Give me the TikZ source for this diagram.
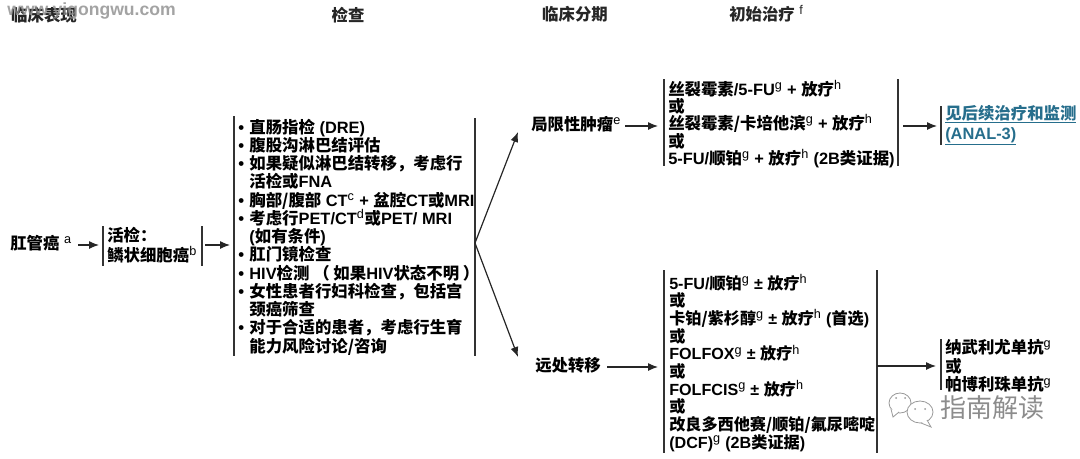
\documentclass[tikz,border=0pt]{standalone}
\usepackage{fontspec}
\setmainfont{Liberation Sans}
\newfontfamily\cjk{Noto Sans CJK SC}
\newcommand{\zh}[1]{{\cjk #1}}
\newcommand{\sps}[1]{\textsuperscript{\mdseries\fontsize{9.5pt}{9.5pt}\selectfont #1}}
\newcommand{\itm}{\makebox[7.6pt][l]{\hspace*{-0.6pt}\fontsize{12.5pt}{12.5pt}\selectfont\textbullet}}
\newcommand{\noitm}{\hspace*{7.6pt}}
\usetikzlibrary{arrows.meta}
\definecolor{linkblue}{RGB}{38,110,140}
\tikzset{
  lab/.style={inner sep=0pt,anchor=west,align=left,font=\bfseries\fontsize{12.3pt}{13.7pt}\selectfont},
  head/.style={inner sep=0pt,font=\bfseries\fontsize{12.3pt}{13.7pt}\selectfont,text=black!85},
  bar/.style={line width=1pt,black!80},
  arr/.style={-{Latex[length=7.5pt,width=6pt]},line width=0.9pt,black!85},
  wm/.style={line width=0.6pt,black!40,fill=white},
}
\begin{document}
\begin{tikzpicture}[x=0.75pt,y=-0.75pt]
  \useasboundingbox (0,0) rectangle (1080,458);
  % column titles
  \node[head] (hclin) at (44,15) {\zh{临床表现}};
  \node[head] (hexam) at (348,15) {\zh{检查}};
  \node[head] (hstage) at (575,14) {\zh{临床分期}};
  \node[head,anchor=west] (htreat) at (729,14) {\zh{初始治疗} \sps{f}};
  % site mark over the first title
  \node[inner sep=0pt,anchor=west,text=black!45,opacity=0.8,font=\bfseries\fontsize{13.2pt}{13.2pt}\selectfont] (wmsite) at (7,11) {www.yigongwu.com};
  % left part
  \node[lab] (anal) at (10,243) {\zh{肛管癌} \sps{a}};
  \node[lab,font=\bfseries\fontsize{12.3pt}{15pt}\selectfont] (biopsy) at (107,245) {\zh{活检：}\\\zh{鳞状细胞癌}\sps{b}};
  \coordinate (biopn) at (103,226);
  \coordinate (biops) at (103,266);
  \coordinate (biorn) at (202,226);
  \coordinate (biors) at (202,266);
  \draw[bar] (biopn) -- (biops);
  \draw[bar] (biorn) -- (biors);
  % work-up
  \node[lab] (exam) at (239,237) {%
    \itm\zh{直肠指检} (DRE)\\
    \itm\zh{腹股沟淋巴结评估}\\
    \itm\zh{如果疑似淋巴结转移，考虑行}\\
    \noitm\zh{活检或}FNA\\
    \itm\zh{胸部/腹部} CT\sps{c} + \zh{盆腔}CT\zh{或}MRI\\
    \itm\zh{考虑行}PET/CT\sps{d}\zh{或}PET/ MRI\\
    \noitm(\zh{如有条件})\\
    \itm\zh{肛门镜检查}\\
    \itm HIV\zh{检测 （ 如果}HIV\zh{状态不明 ）}\\
    \itm\zh{女性患者行妇科检查，包括宫}\\
    \noitm\zh{颈癌筛查}\\
    \itm\zh{对于合适的患者，考虑行生育}\\
    \noitm\zh{能力风险讨论/咨询}};
  \coordinate (examln) at (234,116);
  \coordinate (examls) at (234,356);
  \coordinate (examrn) at (475,118);
  \coordinate (examrs) at (475,356);
  \coordinate (fork) at (475,243);
  \draw[bar] (examln) -- (examls);
  \draw[bar] (examrn) -- (examrs);
  % stages
  \node[lab] (local) at (531,124) {\zh{局限性肿瘤}\sps{e}};
  \node[lab] (dist) at (535,365) {\zh{远处转移}};
  % treatment boxes
  \node[lab,font=\bfseries\fontsize{12.3pt}{12.75pt}\selectfont] (treata) at (668,124) {%
    \zh{丝裂霉素}/5-FU\sps{g} + \zh{放疗}\sps{h}\\
    \zh{或}\\
    \zh{丝裂霉素/卡培他滨}\sps{g} + \zh{放疗}\sps{h}\\
    \zh{或}\\
    5-FU/\zh{顺铂}\sps{g} + \zh{放疗}\sps{h} (2B\zh{类证据})};
  \coordinate (treatan) at (664,79);
  \coordinate (treatas) at (664,166);
  \coordinate (treatarn) at (898,79);
  \coordinate (treatars) at (898,166);
  \draw[bar] (treatan) -- (treatas);
  \draw[bar] (treatarn) -- (treatars);
  \node[lab,font=\bfseries\fontsize{12.1pt}{13.25pt}\selectfont] (treatb) at (669,363) {%
    5-FU/\zh{顺铂}\sps{g} ± \zh{放疗}\sps{h}\\
    \zh{或}\\
    \zh{卡铂/紫杉醇}\sps{g} ± \zh{放疗}\sps{h} (\zh{首选})\\
    \zh{或}\\
    FOLFOX\sps{g} ± \zh{放疗}\sps{h}\\
    \zh{或}\\
    FOLFCIS\sps{g} ± \zh{放疗}\sps{h}\\
    \zh{或}\\
    \zh{改良多西他赛/顺铂/氟尿嘧啶}\\
    (DCF)\sps{g} (2B\zh{类证据})};
  \coordinate (treatbn) at (664,270);
  \coordinate (treatbs) at (664,453);
  \coordinate (treatbrn) at (877,270);
  \coordinate (treatbrs) at (877,453);
  \draw[bar] (treatbn) -- (treatbs);
  \draw[bar] (treatbrn) -- (treatbrs);
  % follow-up
  \node[lab,text=linkblue,font=\bfseries\fontsize{12.3pt}{15pt}\selectfont] (follow) at (945,125) {\underline{\zh{见后续治疗和监测}}\\\underline{(ANAL-3)}};
  \coordinate (followt) at (941,106);
  \coordinate (followb) at (941,145);
  \draw[bar] (followt) -- (followb);
  \node[lab,font=\bfseries\fontsize{12.3pt}{14pt}\selectfont] (immuno) at (945,366) {\zh{纳武利尤单抗}\sps{g}\\\zh{或}\\\zh{帕博利珠单抗}\sps{g}};
  \coordinate (immunot) at (941,339);
  \coordinate (immunob) at (941,390);
  \draw[bar] (immunot) -- (immunob);
  % arrows
  \coordinate (analend) at (78,245);
  \coordinate (bioin) at (99,245);
  \coordinate (bioout) at (205,245);
  \coordinate (examin) at (230,245);
  \coordinate (localtip) at (518,132);
  \coordinate (disttip) at (518,357);
  \coordinate (localout) at (625,126);
  \coordinate (treatain) at (658,126);
  \coordinate (distout) at (607,367);
  \coordinate (treatbin) at (658,367);
  \coordinate (treataout) at (903,126);
  \coordinate (followin) at (937,126);
  \coordinate (treatbout) at (877,366);
  \coordinate (immunoin) at (936,366);
  \draw[arr] (analend) -- (bioin);
  \draw[arr] (bioout) -- (examin);
  \draw[arr] (fork) -- (localtip);
  \draw[arr] (fork) -- (disttip);
  \draw[arr] (localout) -- (treatain);
  \draw[arr] (distout) -- (treatbin);
  \draw[arr] (treataout) -- (followin);
  \draw[arr] (treatbout) -- (immunoin);
  % account mark, lower right
  \draw[wm] (900,403) ellipse (11 and 10);
  \draw[wm] (891,409) -- (893,417) -- (899,412);
  \draw[wm] (920,412) ellipse (13 and 11);
  \draw[wm] (927,420) -- (931,427) -- (921,423);
  \fill[black!40] (896,398) circle (1) (905,398) circle (1) (915,409) circle (1) (925,409) circle (1);
  \node[inner sep=0pt,anchor=west,text=black!45,font=\fontsize{19.5pt}{19.5pt}\selectfont] (wmname) at (940,408) {\zh{指南解读}};
\end{tikzpicture}
\end{document}
